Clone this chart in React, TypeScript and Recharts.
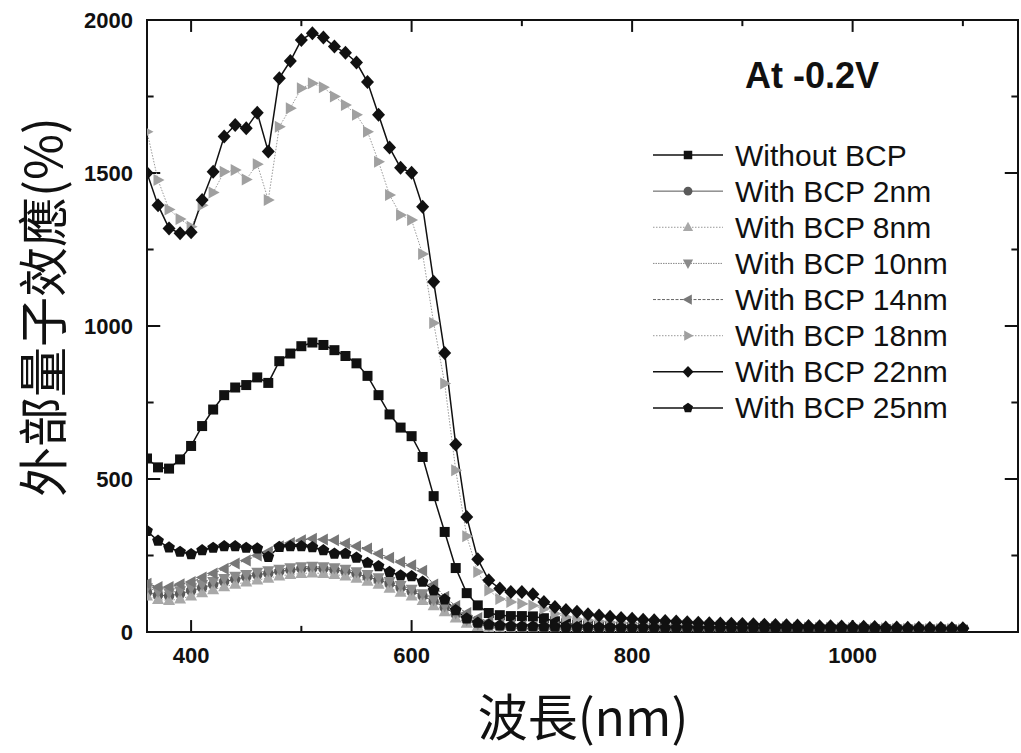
import React from 'react';
import { LineChart, Line, XAxis, YAxis, ReferenceLine, ReferenceArea, Legend } from 'recharts';

const wavelengths = [
  360, 370, 380, 390, 400, 410, 420, 430, 440, 450,
  460, 470, 480, 490, 500, 510, 520, 530, 540, 550,
  560, 570, 580, 590, 600, 610, 620, 630, 640, 650,
  660, 670, 680, 690, 700, 710, 720, 730, 740, 750,
  760, 770, 780, 790, 800, 810, 820, 830, 840, 850,
  860, 870, 880, 890, 900, 910, 920, 930, 940, 950,
  960, 970, 980, 990, 1000, 1010, 1020, 1030, 1040, 1050,
  1060, 1070, 1080, 1090, 1100,
];

const withoutBCP = [
  567, 538, 534, 564, 608, 673, 727, 774, 799, 807,
  832, 814, 885, 910, 934, 946, 938, 921, 902, 878,
  837, 774, 711, 668, 640, 572, 444, 327, 209, 127,
  87, 62, 55, 52, 52, 51, 45, 35, 28, 24,
  21, 19, 18, 17, 16, 15, 15, 14, 14, 13,
  13, 13, 12, 12, 12, 11, 11, 11, 11, 10,
  10, 10, 10, 9, 9, 9, 9, 9, 8, 8,
  8, 8, 8, 8, 7,
];

const bcp2 = [
  130, 120, 118, 125, 135, 145, 155, 165, 172, 180,
  187, 192, 198, 203, 207, 208, 207, 203, 198, 190,
  180, 170, 158, 145, 133, 118, 100, 80, 58, 38,
  25, 18, 15, 13, 12, 11, 11, 10, 10, 10,
  9, 9, 9, 9, 8, 8, 8, 8, 8, 7,
  7, 7, 7, 7, 7, 6, 6, 6, 6, 6,
  6, 6, 6, 5, 5, 5, 5, 5, 5, 5,
  5, 5, 4, 4, 4,
];

const bcp8 = [
  118, 106, 103, 108, 118, 128, 138, 148, 156, 163,
  170, 176, 183, 188, 191, 193, 191, 188, 183, 176,
  166, 156, 143, 130, 118, 103, 86, 66, 46, 29,
  18, 12, 10, 9, 8, 8, 7, 7, 7, 7,
  6, 6, 6, 6, 6, 6, 5, 5, 5, 5,
  5, 5, 5, 5, 5, 4, 4, 4, 4, 4,
  4, 4, 4, 4, 4, 4, 3, 3, 3, 3,
  3, 3, 3, 3, 3,
];

const bcp10 = [
  145, 132, 128, 135, 145, 155, 165, 175, 182, 188,
  195, 200, 205, 210, 213, 215, 213, 210, 205, 197,
  188, 177, 165, 152, 140, 125, 105, 85, 62, 40,
  26, 18, 14, 12, 11, 10, 10, 9, 9, 9,
  8, 8, 8, 8, 7, 7, 7, 7, 7, 7,
  6, 6, 6, 6, 6, 6, 6, 5, 5, 5,
  5, 5, 5, 5, 5, 5, 4, 4, 4, 4,
  4, 4, 4, 4, 4,
];

const bcp14 = [
  158, 147, 147, 156, 163, 178, 191, 207, 224, 234,
  250, 262, 280, 291, 300, 305, 302, 300, 289, 280,
  273, 256, 243, 229, 218, 200, 155, 115, 85, 62,
  46, 34, 27, 23, 20, 18, 17, 16, 15, 14,
  13, 13, 12, 12, 11, 11, 11, 10, 10, 10,
  10, 9, 9, 9, 9, 9, 8, 8, 8, 8,
  8, 8, 7, 7, 7, 7, 7, 7, 7, 6,
  6, 6, 6, 6, 6,
];

const bcp18 = [
  1635, 1477, 1381, 1350, 1324, 1395, 1436, 1504, 1510, 1479,
  1529, 1412, 1651, 1712, 1777, 1793, 1780, 1750, 1722, 1690,
  1635, 1537, 1428, 1363, 1346, 1235, 1010, 812, 529, 313,
  196, 136, 108, 98, 92, 87, 76, 60, 49, 42,
  38, 35, 32, 30, 28, 26, 25, 24, 23, 22,
  21, 20, 19, 19, 18, 17, 17, 16, 16, 15,
  15, 14, 14, 13, 13, 12, 12, 12, 11, 11,
  11, 10, 10, 10, 9,
];

const bcp22 = [
  1500, 1395, 1319, 1303, 1306, 1412, 1504, 1619, 1657, 1646,
  1697, 1570, 1810, 1866, 1935, 1957, 1943, 1913, 1893, 1861,
  1797, 1690, 1583, 1517, 1501, 1390, 1145, 912, 613, 376,
  238, 169, 142, 131, 131, 123, 98, 82, 72, 66,
  58, 54, 50, 46, 43, 40, 38, 36, 34, 32,
  30, 29, 28, 27, 26, 25, 24, 23, 22, 21,
  20, 19, 19, 18, 17, 17, 16, 15, 15, 14,
  14, 13, 13, 12, 12,
];

const bcp25 = [
  330, 298, 276, 262, 254, 267, 275, 280, 280, 275,
  273, 245, 278, 280, 280, 277, 267, 256, 256, 243,
  226, 215, 196, 185, 182, 164, 136, 106, 71, 44,
  30, 24, 21, 19, 18, 18, 17, 17, 16, 16,
  15, 15, 15, 14, 14, 14, 13, 13, 13, 13,
  12, 12, 12, 12, 11, 11, 11, 11, 11, 10,
  10, 10, 10, 10, 10, 9, 9, 9, 9, 9,
  9, 8, 8, 8, 8,
];

const xTicks = [400, 600, 800, 1000];
const xMinorTicks = [500, 700, 900, 1100];
const yTicks = [0, 500, 1000, 1500, 2000];
const yMinorTicks = [250, 750, 1250, 1750];

const X_MIN = 360;
const X_MAX = 1150;
const Y_MIN = 0;
const Y_MAX = 2000;

type Shape = 'square' | 'circle' | 'up' | 'down' | 'left' | 'right' | 'diamond' | 'pentagon';

interface SeriesDef {
  key: string;
  name: string;
  values: number[];
  shape: Shape;
  stroke: string;
  fill: string;
  width: number;
  dash?: string;
}

const seriesDefs: SeriesDef[] = [
  { key: 'without', name: 'Without BCP', values: withoutBCP, shape: 'square', stroke: '#111', fill: '#111', width: 1.5 },
  { key: 'b2', name: 'With BCP 2nm', values: bcp2, shape: 'circle', stroke: '#555', fill: '#5a5a5a', width: 1 },
  { key: 'b8', name: 'With BCP 8nm', values: bcp8, shape: 'up', stroke: '#999', fill: '#a8a8a8', width: 1, dash: '1.5 1.5' },
  { key: 'b10', name: 'With BCP 10nm', values: bcp10, shape: 'down', stroke: '#888', fill: '#8a8a8a', width: 1, dash: '1.5 1' },
  { key: 'b14', name: 'With BCP 14nm', values: bcp14, shape: 'left', stroke: '#666', fill: '#777', width: 1, dash: '3 1.5' },
  { key: 'b18', name: 'With BCP 18nm', values: bcp18, shape: 'right', stroke: '#999', fill: '#a0a0a0', width: 1, dash: '1.5 1.5' },
  { key: 'b22', name: 'With BCP 22nm', values: bcp22, shape: 'diamond', stroke: '#111', fill: '#111', width: 1.5 },
  { key: 'b25', name: 'With BCP 25nm', values: bcp25, shape: 'pentagon', stroke: '#111', fill: '#111', width: 1.5 },
];

const data = wavelengths.map((w, i) => {
  const row: Record<string, number> = { wl: w };
  seriesDefs.forEach((s) => {
    row[s.key] = s.values[i];
  });
  return row;
});

function Marker({ shape, cx, cy, fill, s = 1 }: { shape: Shape; cx: number; cy: number; fill: string; s?: number }) {
  if (cx == null || cy == null || isNaN(cx) || isNaN(cy)) return null;
  const p = (pts: number[][]) => pts.map(([dx, dy]) => `${cx + dx * s},${cy + dy * s}`).join(' ');
  switch (shape) {
    case 'square':
      return <rect x={cx - 5 * s} y={cy - 5 * s} width={10 * s} height={10 * s} fill={fill} />;
    case 'circle':
      return <circle cx={cx} cy={cy} r={5.2 * s} fill={fill} />;
    case 'up':
      return <polygon points={p([[0, -6.5], [6, 4.5], [-6, 4.5]])} fill={fill} />;
    case 'down':
      return <polygon points={p([[0, 6.5], [6, -4.5], [-6, -4.5]])} fill={fill} />;
    case 'left':
      return <polygon points={p([[-6.5, 0], [4.5, -6], [4.5, 6]])} fill={fill} />;
    case 'right':
      return <polygon points={p([[6.5, 0], [-4.5, -6], [-4.5, 6]])} fill={fill} />;
    case 'diamond':
      return <polygon points={p([[0, -7], [6.5, 0], [0, 7], [-6.5, 0]])} fill={fill} />;
    case 'pentagon': {
      const pts: number[][] = [];
      for (let k = 0; k < 5; k++) {
        const a = (-90 + k * 72) * (Math.PI / 180);
        pts.push([6.2 * Math.cos(a), 6.2 * Math.sin(a)]);
      }
      return <polygon points={p(pts)} fill={fill} />;
    }
    default:
      return null;
  }
}

const LEGEND_FONT = '"Liberation Sans", Arial, sans-serif';

const renderLegend = () => (
  <svg width={360} height={400} style={{ overflow: 'visible' }}>
    <text x={105} y={48} fontSize={36} fontWeight={700} fontFamily={LEGEND_FONT} fill="#111">
      At -0.2V
    </text>
    {seriesDefs.map((s, i) => {
      const y = 115 + i * 36.14;
      return (
        <g key={s.key}>
          <line x1={13} x2={83} y1={y} y2={y} stroke={s.stroke} strokeWidth={s.width} strokeDasharray={s.dash} />
          <Marker shape={s.shape} cx={48} cy={y} fill={s.fill} s={0.85} />
          <text x={95} y={y} dominantBaseline="central" fontSize={30} fontFamily={LEGEND_FONT} fill="#111">
            {s.name}
          </text>
        </g>
      );
    })}
  </svg>
);

const CJK_FONT = '"Noto Sans CJK TC", "Noto Sans CJK SC", sans-serif';

export default function App() {
  const tickStyle = { fontSize: 22, fontWeight: 700, fontFamily: LEGEND_FONT, fill: '#111' };
  return (
    <div style={{ position: 'absolute', left: 0, top: 0, width: 1021, height: 753, background: '#fff' }}>
      <LineChart width={1021} height={753} data={data} margin={{ top: 20, right: 3, bottom: 61, left: 47 }}>
        <XAxis
          dataKey="wl"
          type="number"
          domain={[X_MIN, X_MAX]}
          ticks={xTicks}
          allowDataOverflow
          axisLine={false}
          tickLine={false}
          tickMargin={9}
          height={60}
          tick={tickStyle}
          label={() => (
            <text x={583} y={736} textAnchor="middle" fontSize={50} fontFamily={CJK_FONT} fill="#111">
              波長(nm)
            </text>
          )}
        />
        <YAxis
          type="number"
          domain={[Y_MIN, Y_MAX]}
          ticks={yTicks}
          allowDataOverflow
          axisLine={false}
          tickLine={false}
          tickMargin={8}
          width={100}
          tick={tickStyle}
          label={() => (
            <text
              x={40}
              y={307}
              transform="rotate(-90 40 307)"
              textAnchor="middle"
              dominantBaseline="central"
              fontSize={50}
              fontFamily={CJK_FONT}
              fill="#111"
            >
              外部量子效應(%)
            </text>
          )}
        />
        <ReferenceArea x1={X_MIN} x2={X_MAX} y1={Y_MIN} y2={Y_MAX} fill="none" stroke="#111" strokeWidth={2} ifOverflow="visible" />
        {xTicks.map((t) => (
          <ReferenceLine key={`xb${t}`} segment={[{ x: t, y: Y_MIN }, { x: t, y: 39 }]} stroke="#111" strokeWidth={2} />
        ))}
        {xMinorTicks.map((t) => (
          <ReferenceLine key={`xbm${t}`} segment={[{ x: t, y: Y_MIN }, { x: t, y: 20 }]} stroke="#111" strokeWidth={2} />
        ))}
        {xTicks.map((t) => (
          <ReferenceLine key={`xt${t}`} segment={[{ x: t, y: Y_MAX }, { x: t, y: Y_MAX - 39 }]} stroke="#111" strokeWidth={2} />
        ))}
        {xMinorTicks.map((t) => (
          <ReferenceLine key={`xtm${t}`} segment={[{ x: t, y: Y_MAX }, { x: t, y: Y_MAX - 20 }]} stroke="#111" strokeWidth={2} />
        ))}
        {yTicks.map((t) => (
          <ReferenceLine key={`yl${t}`} segment={[{ x: X_MIN, y: t }, { x: X_MIN + 12, y: t }]} stroke="#111" strokeWidth={2} />
        ))}
        {yMinorTicks.map((t) => (
          <ReferenceLine key={`ylm${t}`} segment={[{ x: X_MIN, y: t }, { x: X_MIN + 6, y: t }]} stroke="#111" strokeWidth={2} />
        ))}
        {yTicks.map((t) => (
          <ReferenceLine key={`yr${t}`} segment={[{ x: X_MAX, y: t }, { x: X_MAX - 12, y: t }]} stroke="#111" strokeWidth={2} />
        ))}
        {yMinorTicks.map((t) => (
          <ReferenceLine key={`yrm${t}`} segment={[{ x: X_MAX, y: t }, { x: X_MAX - 6, y: t }]} stroke="#111" strokeWidth={2} />
        ))}
        {seriesDefs.map((s) => (
          <Line
            key={s.key}
            dataKey={s.key}
            name={s.name}
            type="linear"
            stroke={s.stroke}
            strokeWidth={s.width}
            strokeDasharray={s.dash}
            isAnimationActive={false}
            activeDot={false}
            dot={(props: any) => (
              <Marker key={`${s.key}-${props.index}`} shape={s.shape} cx={props.cx} cy={props.cy} fill={s.fill} />
            )}
          />
        ))}
        <Legend
          layout="vertical"
          align="center"
          verticalAlign="middle"
          content={renderLegend}
          wrapperStyle={{ position: 'absolute', left: 640, top: 40, width: 360, height: 400 }}
        />
      </LineChart>
    </div>
  );
}
